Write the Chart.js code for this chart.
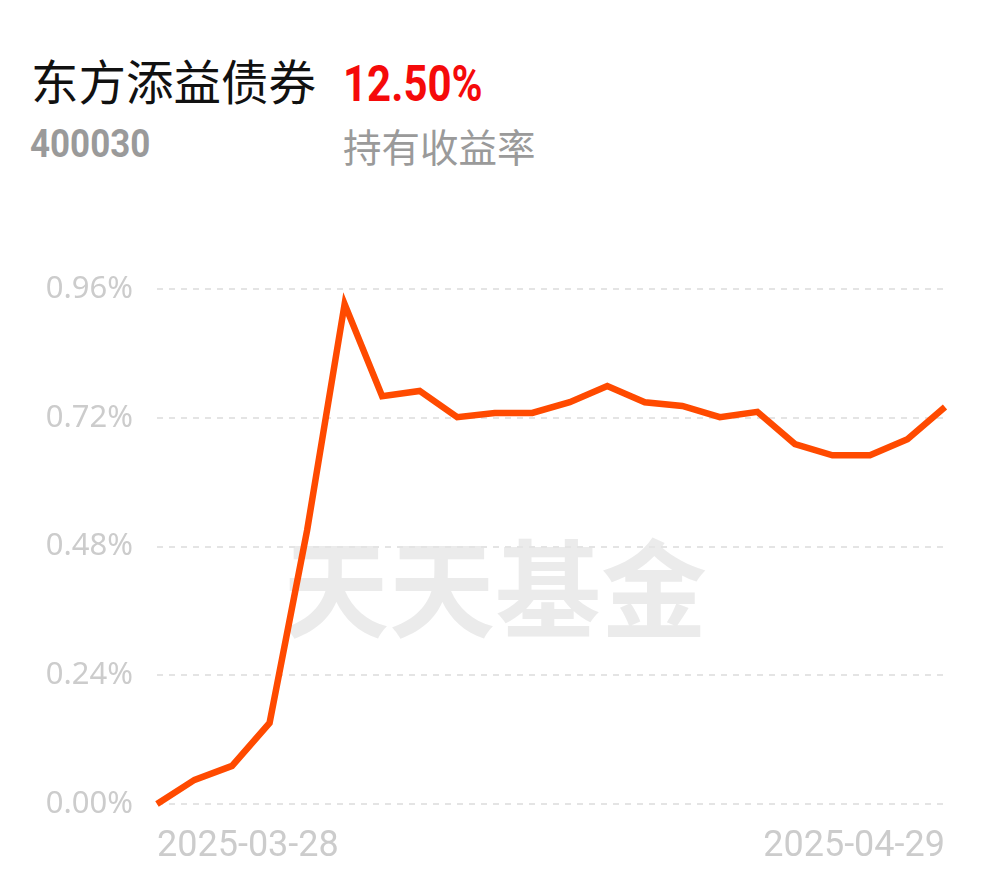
<!DOCTYPE html>
<html lang="zh-CN">
<head>
<meta charset="utf-8">
<title>东方添益债券 持有收益率</title>
<script src="https://cdn.jsdelivr.net/npm/chart.js@4/dist/chart.umd.min.js"></script>
<style>
    html, body {
        margin: 0;
        padding: 0;
        background: #fff;
        width: 990px;
        height: 878px;
        overflow: hidden;
    }
    .header {
        position: absolute;
        left: 0;
        top: 0;
        font-family: "Noto Sans CJK SC", sans-serif;
    }
    .fund-name {
        position: absolute;
        left: 31px;
        top: 56px;
        font-size: 47.5px;
        line-height: 48px;
        color: #111;
        white-space: nowrap;
    }
    .fund-return {
        position: absolute;
        left: 343px;
        top: 56px;
        font-family: Roboto, sans-serif;
        font-weight: 700;
        font-size: 50px;
        line-height: 56px;
        color: #f50a0a;
        transform: scaleX(0.84);
        transform-origin: left center;
        white-space: nowrap;
    }
    .fund-code {
        position: absolute;
        left: 30px;
        top: 124px;
        font-family: Roboto, sans-serif;
        font-weight: 700;
        font-size: 38px;
        line-height: 40px;
        color: #9a9a9a;
        transform: scaleX(0.92);
        transform-origin: left center;
        white-space: nowrap;
    }
    .return-label {
        position: absolute;
        left: 343px;
        top: 125px;
        font-size: 38.5px;
        line-height: 40px;
        color: #9a9a9a;
        white-space: nowrap;
    }
    .chart-box {
        position: absolute;
        left: 0;
        top: 0;
        width: 990px;
        height: 878px;
    }
</style>
</head>
<body>
<div class="header">
    <div class="fund-name">东方添益债券</div>
    <div class="fund-return">12.50%</div>
    <div class="fund-code">400030</div>
    <div class="return-label">持有收益率</div>
</div>
<div class="chart-box">
    <canvas id="returnChart"></canvas>
</div>
<script>
// 交易日
const dates = [
    '2025-03-28', '2025-03-31', '2025-04-01', '2025-04-02', '2025-04-03',
    '2025-04-07', '2025-04-08', '2025-04-09', '2025-04-10', '2025-04-11',
    '2025-04-14', '2025-04-15', '2025-04-16', '2025-04-17', '2025-04-18',
    '2025-04-21', '2025-04-22', '2025-04-23', '2025-04-24', '2025-04-25',
    '2025-04-28', '2025-04-29'
];

// 区间收益率 (%)
const returns = [
    0.00, 0.045, 0.071, 0.151, 0.51,
    0.932, 0.760, 0.770, 0.721, 0.729,
    0.729, 0.749, 0.779, 0.749, 0.742,
    0.721, 0.731, 0.671, 0.650, 0.650,
    0.680, 0.740
];

const yTicks = [0, 0.24, 0.48, 0.72, 0.96];
const watermarkText = '天天基金';

// 背景水印
const watermarkPlugin = {
    id: 'watermark',
    beforeDraw(chart) {
        const { ctx } = chart;
        ctx.save();
        ctx.font = '700 106px "Noto Sans CJK SC", sans-serif';
        ctx.fillStyle = '#ebebeb';
        ctx.textAlign = 'center';
        ctx.textBaseline = 'middle';
        ctx.fillText(watermarkText, 495, 589);
        ctx.restore();
    }
};

const ctx = document.getElementById('returnChart').getContext('2d');

new Chart(ctx, {
    type: 'line',
    data: {
        labels: dates,
        datasets: [{
            label: '持有收益率',
            data: returns,
            borderColor: '#ff4a00',
            borderWidth: 6.5,
            pointRadius: 0,
            tension: 0,
            fill: false,
            clip: false
        }]
    },
    options: {
        responsive: true,
        maintainAspectRatio: false,
        animation: false,
        layout: {
            padding: { top: 289, right: 45, bottom: 0, left: 0 }
        },
        plugins: {
            legend: { display: false },
            tooltip: { enabled: false }
        },
        scales: {
            x: {
                grid: { display: false, drawTicks: false },
                border: { display: false },
                afterFit(scale) {
                    scale.height = 74;
                },
                ticks: {
                    autoSkip: false,
                    maxRotation: 0,
                    align: 'inner',
                    padding: 21,
                    color: '#cccccc',
                    font: { family: 'Roboto', size: 36 },
                    callback(value, index) {
                        if (index === 0 || index === dates.length - 1) return dates[index];
                        return '';
                    }
                }
            },
            y: {
                min: 0,
                max: 0.96,
                afterBuildTicks(scale) {
                    scale.ticks = yTicks.map(v => ({ value: v }));
                },
                afterFit(scale) {
                    scale.width = 157;
                },
                grid: {
                    color: '#e4e4e4',
                    lineWidth: 2,
                    drawTicks: false
                },
                border: { display: false, dash: [6, 6] },
                ticks: {
                    padding: 24,
                    color: '#cccccc',
                    font: { family: 'Noto Sans', size: 31 },
                    callback(value) {
                        return value.toFixed(2) + '%';
                    }
                }
            }
        }
    },
    plugins: [watermarkPlugin]
});
</script>
</body>
</html>
